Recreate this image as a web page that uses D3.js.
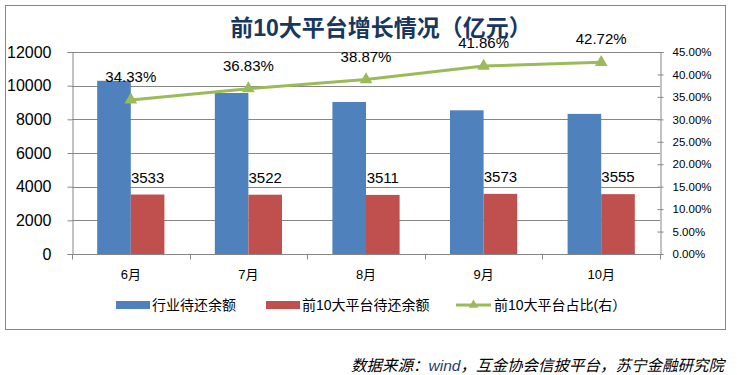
<!DOCTYPE html>
<html>
<head>
<meta charset="utf-8">
<script src="https://cdn.jsdelivr.net/npm/d3@7"></script>
<style>
  body { margin: 0; background: #fff; }
  svg text { font-family: "Liberation Sans", "Noto Sans CJK SC", sans-serif; }
</style>
</head>
<body>
<svg id="chart" width="737" height="375"></svg>
<script>
const months = ["6月", "7月", "8月", "9月", "10月"];
const industryBalance = [10291, 9563, 9033, 8536, 8322];
const top10Balance = [3533, 3522, 3511, 3573, 3555];
const top10Share = [0.3433, 0.3683, 0.3887, 0.4186, 0.4272];
const leftTicks = [0, 2000, 4000, 6000, 8000, 10000, 12000];
const rightTicks = [0, 0.05, 0.1, 0.15, 0.2, 0.25, 0.3, 0.35, 0.4, 0.45];
const seriesNames = ["行业待还余额", "前10大平台待还余额", "前10大平台占比(右）"];

const colors = {blue: "#4F81BD", red: "#C0504D", green: "#9BBB59", axis: "#868686"};
const cjk = "'Noto Sans CJK SC', sans-serif";

const svg = d3.select("#chart");
const plot = {left: 72, right: 660, top: 52, bottom: 254};

// outer frame
svg.append("rect")
  .attr("x", 5.5).attr("y", 5.5)
  .attr("width", 720).attr("height", 324)
  .attr("fill", "#fff").attr("stroke", colors.axis).attr("stroke-width", 1);

const xScale = d3.scaleBand().domain(months).range([plot.left, plot.right]);
const xInner = d3.scaleBand().domain(["industry", "top10"])
  .range([0, xScale.bandwidth()]).paddingInner(0).paddingOuter(0.75);
const yScale = d3.scaleLinear().domain([0, 12000]).range([plot.bottom, plot.top]);
const yRight = d3.scaleLinear().domain([0, 0.45]).range([plot.bottom, plot.top]);

// title (drawn first so the data labels sit over it)
svg.append("text")
  .attr("x", 381).attr("y", 36)
  .attr("text-anchor", "middle")
  .attr("font-size", 23)
  .attr("font-weight", "bold")
  .attr("font-family", cjk)
  .attr("fill", "#17375E")
  .text("前10大平台增长情况（亿元）");

// gridlines
svg.append("g")
  .selectAll("line")
  .data(leftTicks)
  .join("line")
  .attr("x1", plot.left).attr("x2", plot.right)
  .attr("y1", d => Math.round(yScale(d)) + 0.5)
  .attr("y2", d => Math.round(yScale(d)) + 0.5)
  .attr("stroke", colors.axis);

// left axis
const leftAxis = svg.append("g")
  .attr("transform", `translate(${plot.left + 0.5},0)`)
  .call(d3.axisLeft(yScale).tickValues(leftTicks).tickSize(5).tickPadding(16).tickFormat(d3.format("d")));
leftAxis.select(".domain").attr("stroke", colors.axis);
leftAxis.selectAll(".tick line").attr("stroke", colors.axis);
leftAxis.selectAll("text").attr("font-size", 16).attr("fill", "#000")
  .attr("font-family", "'Liberation Sans', sans-serif");

// right axis
const rightAxis = svg.append("g")
  .attr("transform", `translate(${plot.right + 0.5},0)`)
  .call(d3.axisRight(yRight).tickValues(rightTicks).tickSize(3).tickPadding(9).tickFormat(d3.format(".2%")));
rightAxis.select(".domain").attr("stroke", colors.axis);
rightAxis.selectAll(".tick line").attr("stroke", colors.axis).attr("x1", -3);
rightAxis.selectAll("text").attr("font-size", 11.5).attr("fill", "#000")
  .attr("font-family", "'DejaVu Sans', sans-serif");

// bars
const groups = svg.append("g")
  .selectAll("g")
  .data(months.map((m, i) => ({month: m, industry: industryBalance[i], top10: top10Balance[i]})))
  .join("g")
  .attr("transform", d => `translate(${xScale(d.month)},0)`);

groups.append("rect")
  .attr("x", xInner("industry"))
  .attr("width", xInner.bandwidth())
  .attr("y", d => yScale(d.industry))
  .attr("height", d => yScale(0) - yScale(d.industry))
  .attr("fill", colors.blue);

groups.append("rect")
  .attr("x", xInner("top10"))
  .attr("width", xInner.bandwidth())
  .attr("y", d => yScale(d.top10))
  .attr("height", d => yScale(0) - yScale(d.top10))
  .attr("fill", colors.red);

groups.append("text")
  .attr("x", xInner("top10") + xInner.bandwidth() / 2)
  .attr("y", d => yScale(d.top10) - 12)
  .attr("text-anchor", "middle")
  .attr("font-size", 15)
  .attr("fill", "#000")
  .text(d => d.top10);

// bottom axis
const bottomAxis = svg.append("g")
  .attr("transform", `translate(0,${plot.bottom + 0.5})`);
bottomAxis.append("line")
  .attr("x1", plot.left).attr("x2", plot.right)
  .attr("stroke", colors.axis);
bottomAxis.selectAll(".tk")
  .data(months.concat(["end"]))
  .join("line")
  .attr("class", "tk")
  .attr("x1", (d, i) => Math.round(plot.left + i * xScale.step()) + 0.5)
  .attr("x2", (d, i) => Math.round(plot.left + i * xScale.step()) + 0.5)
  .attr("y1", 0).attr("y2", 5)
  .attr("stroke", colors.axis);
bottomAxis.selectAll(".lbl")
  .data(months)
  .join("text")
  .attr("class", "lbl")
  .attr("x", d => xScale(d) + xScale.bandwidth() / 2)
  .attr("y", 24)
  .attr("text-anchor", "middle")
  .attr("font-size", 13)
  .attr("font-family", cjk)
  .attr("fill", "#000")
  .text(d => d);

// share line
const lineData = months.map((m, i) => ({month: m, share: top10Share[i]}));
const line = d3.line()
  .x(d => xScale(d.month) + xScale.bandwidth() / 2)
  .y(d => yRight(d.share));

svg.append("path")
  .datum(lineData)
  .attr("d", line)
  .attr("fill", "none")
  .attr("stroke", colors.green)
  .attr("stroke-width", 3);

const tri = d3.symbol().type(d3.symbolTriangle).size(70);
svg.append("g")
  .selectAll("path")
  .data(lineData)
  .join("path")
  .attr("d", tri)
  .attr("transform", d => `translate(${xScale(d.month) + xScale.bandwidth() / 2},${yRight(d.share)})`)
  .attr("fill", colors.green);

svg.append("g")
  .selectAll("text")
  .data(lineData)
  .join("text")
  .attr("x", d => xScale(d.month) + xScale.bandwidth() / 2)
  .attr("y", d => yRight(d.share) - 18)
  .attr("text-anchor", "middle")
  .attr("font-size", 15)
  .attr("fill", "#000")
  .text(d => d3.format(".2%")(d.share));

// legend
const legendY = 305;
const legendItems = [
  {name: seriesNames[0], x: 116, type: "bar", color: colors.blue},
  {name: seriesNames[1], x: 266, type: "bar", color: colors.red},
  {name: seriesNames[2], x: 456, type: "line", color: colors.green}
];
const legend = svg.append("g")
  .selectAll("g")
  .data(legendItems)
  .join("g")
  .attr("transform", d => `translate(${d.x},${legendY})`);

legend.filter(d => d.type === "bar").append("rect")
  .attr("x", 0).attr("y", -4).attr("width", 34).attr("height", 8)
  .attr("fill", d => d.color);
legend.filter(d => d.type === "line").append("line")
  .attr("x1", 0).attr("x2", 35).attr("y1", 0).attr("y2", 0)
  .attr("stroke", d => d.color).attr("stroke-width", 3);
legend.filter(d => d.type === "line").append("path")
  .attr("d", d3.symbol().type(d3.symbolTriangle).size(40))
  .attr("transform", "translate(17.5,0)")
  .attr("fill", d => d.color);
legend.append("text")
  .attr("x", d => d.type === "bar" ? 36 : 38)
  .attr("y", 5)
  .attr("font-size", 14)
  .attr("font-family", cjk)
  .attr("fill", "#000")
  .text(d => d.name);

// source note
const note = svg.append("text")
  .attr("x", 724).attr("y", 371)
  .attr("text-anchor", "end")
  .attr("font-size", 15.5)
  .attr("font-style", "italic")
  .attr("font-family", cjk)
  .attr("fill", "#000");
note.append("tspan").text("数据来源：");
note.append("tspan").attr("fill", "#1F3B73").text("wind");
note.append("tspan").text("，互金协会信披平台，苏宁金融研究院");
</script>
</body>
</html>
